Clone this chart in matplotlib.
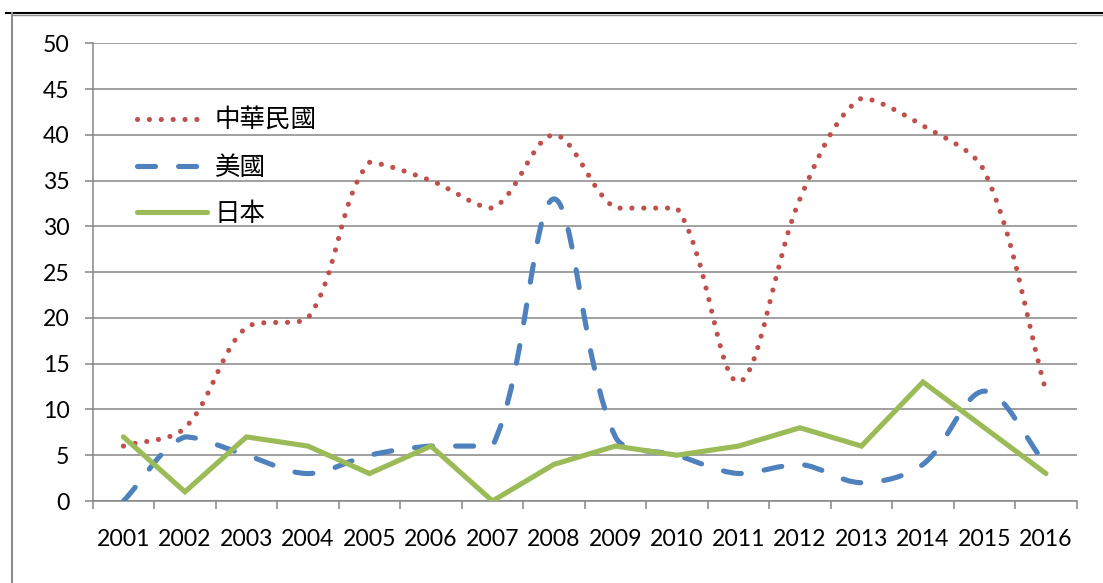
import matplotlib
matplotlib.use("Agg")
import matplotlib.pyplot as plt
import numpy as np
from matplotlib.path import Path
from matplotlib.patches import PathPatch
from matplotlib.lines import Line2D
from matplotlib.ticker import FixedLocator

years = ["2001", "2002", "2003", "2004", "2005", "2006", "2007", "2008",
         "2009", "2010", "2011", "2012", "2013", "2014", "2015", "2016"]
roc = [6, 8, 19, 20, 37, 35, 32, 40, 32, 32, 13, 33, 44, 41, 36, 12]
usa = [0, 7, 5, 3, 5, 6, 6, 33, 7, 5, 3, 4, 2, 4, 12, 4]
japan = [7, 1, 7, 6, 3, 6, 0, 4, 6, 5, 6, 8, 6, 13, 8, 3]
series_names = ["中華民國", "美國", "日本"]
yticks = [0, 5, 10, 15, 20, 25, 30, 35, 40, 45, 50]

RED = "#C0504D"
BLUE = "#4F81BD"
GREEN = "#9BBB59"
GRID = "#868686"

W, H = 1103, 583
fig = plt.figure(figsize=(W / 100, H / 100), dpi=100)
fig.patch.set_facecolor("white")

left, right, bottom, top = 92.7, 1076.7, 501.0, 43.3
ax = fig.add_axes([left / W, 1 - bottom / H, (right - left) / W, (bottom - top) / H])
ax.set_facecolor("white")

n = len(years)
x = np.arange(n)
ax.set_xlim(-0.5, n - 0.5)
ax.set_ylim(0, 50)

tick_font = dict(family="Lato", size=16.6)

# y axis
ax.set_yticks(yticks)
ax.set_yticklabels([str(v) for v in yticks], fontdict=tick_font)
ax.tick_params(axis="y", direction="out", length=5.8, width=1.1, color=GRID, pad=11)
ax.yaxis.grid(True, color=GRID, linewidth=1.1)
ax.set_axisbelow(True)

# x axis: labels at centers, tick marks at boundaries
ax.set_xticks(x)
ax.set_xticklabels(years, fontdict=tick_font)
ax.tick_params(axis="x", which="major", length=0, pad=20)
ax.xaxis.set_minor_locator(FixedLocator(np.arange(n + 1) - 0.5))
ax.tick_params(axis="x", which="minor", direction="out", length=5.6, width=1.1, color=GRID)

for s in ["top", "right"]:
    ax.spines[s].set_visible(False)
for s in ["left", "bottom"]:
    ax.spines[s].set_color(GRID)
    ax.spines[s].set_linewidth(1.1)


def smooth_path(xs, ys):
    """Bezier path through the data points (Excel-like smoothing),
    control points computed in display space."""
    pts = ax.transData.transform(np.column_stack([xs, ys]).astype(float))
    m = len(pts)
    verts = [pts[0]]
    codes = [Path.MOVETO]
    f = 1.0 / 3.0
    for i in range(m - 1):
        p1, p2 = pts[i], pts[i + 1]
        p0 = pts[i - 1] if i > 0 else p1
        p3 = pts[i + 2] if i + 2 < m else p2
        d01 = np.hypot(*(p1 - p0))
        d12 = np.hypot(*(p2 - p1))
        d23 = np.hypot(*(p3 - p2))
        r1 = d12 / (d01 + d12) if d01 + d12 > 0 else 0
        r2 = d12 / (d12 + d23) if d12 + d23 > 0 else 0
        c1 = p1 + (p2 - p0) * f * r1
        c2 = p2 - (p3 - p1) * f * r2
        lo, hi = min(p1[1], p2[1]), max(p1[1], p2[1])
        c1[1] = np.clip(c1[1], lo, hi)
        c2[1] = np.clip(c2[1], lo, hi)
        verts += [c1, c2, p2]
        codes += [Path.CURVE4] * 3
    data_verts = ax.transData.inverted().transform(np.array(verts))
    return Path(data_verts, codes)


LW = 3.7
dot_style = (0, (0.01, 2.3))
dash_style = (0, (3.5, 4.5))

ax.add_patch(PathPatch(smooth_path(x, roc), fill=False, edgecolor=RED,
                       linewidth=LW, linestyle=dot_style, capstyle="round",
                       zorder=3))
ax.add_patch(PathPatch(smooth_path(x, usa), fill=False, edgecolor=BLUE,
                       linewidth=LW, linestyle=dash_style, capstyle="round",
                       zorder=3))
ax.plot(x, japan, color=GREEN, linewidth=LW, solid_capstyle="round",
        solid_joinstyle="miter", zorder=4)

handles = [
    Line2D([], [], color=RED, linewidth=LW, linestyle=dot_style, dash_capstyle="round"),
    Line2D([], [], color=BLUE, linewidth=LW, linestyle=dash_style, dash_capstyle="round"),
    Line2D([], [], color=GREEN, linewidth=LW, solid_capstyle="round"),
]
leg = fig.legend(handles, series_names, loc="upper left",
                 bbox_to_anchor=(137 / W, 1 - 107.5 / H),
                 bbox_transform=fig.transFigure,
                 frameon=False, borderpad=0, borderaxespad=0,
                 handlelength=2.75, handletextpad=0.3, labelspacing=0.82,
                 prop=dict(family=["Noto Sans CJK TC", "DejaVu Sans"], size=18.4))

# outer frame lines
fig.add_artist(Line2D([6 / W, 1], [1 - 13 / H, 1 - 13 / H], color="black", linewidth=1.5))
fig.add_artist(Line2D([12 / W, 1], [1 - 14.5 / H, 1 - 14.5 / H], color="#8c8c8c", linewidth=1.0))
fig.add_artist(Line2D([12 / W, 12 / W], [0, 1 - 13 / H], color="#8c8c8c", linewidth=1.5))

fig.savefig("out.png", dpi=100, facecolor="white")
